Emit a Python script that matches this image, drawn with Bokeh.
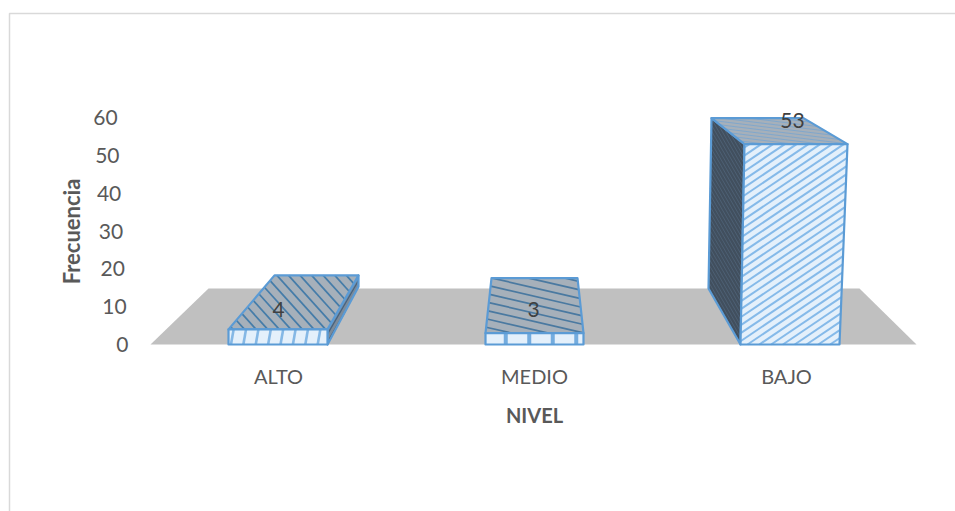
import math

from bokeh.plotting import figure
from bokeh.models import ColumnDataSource
from bokeh.core.properties import value
from bokeh.embed import file_html
from bokeh.resources import INLINE

# Chart values
categories = ["ALTO", "MEDIO", "BAJO"]
frequencies = [4, 3, 53]
y_ticks = [0, 10, 20, 30, 40, 50, 60]
y_title = "Frecuencia"
x_title = "NIVEL"

# Screen layout of the pseudo-3D scene
W, H = 955, 511
BASE_PX = 344          # pixel row of value 0
PX_PER_UNIT = 3.78     # vertical pixels per unit of frequency
BLUE = "#5b9bd5"
TEXT = "#595959"


def row(px):
    """Convert a pixel row into the value scale of the y range."""
    return (BASE_PX - px) / PX_PER_UNIT


# Per-bar perspective: front face x at base and top, back edge x, depth in pixels
bars = {
    "ALTO":  dict(bl=228, br=327, tl=228, tr=327, bkl=274, bkr=358, rise=54),
    "MEDIO": dict(bl=485, br=583, tl=485, tr=583, bkl=491, bkr=577, rise=55),
    "BAJO":  dict(bl=740, br=839, tl=744, tr=847, bkl=711, bkr=803, rise=26),
}
# Hatch of each face: line angle (deg, screen-clockwise), spacing, colour, width
front_hatch = {
    "ALTO":  (100, 12.2, "#80b4e4", 2.6),
    "MEDIO": (90, 23.5, "#6ea8dc", 4.0),
    "BAJO":  (-34, 6.6, "#80b6e8", 2.0),
}
top_hatch = {
    "ALTO":  (48, 8.6, "#3f79a8", 1.7),
    "MEDIO": (13, 8.2, "#44769f", 1.7),
    "BAJO":  (7, 3.4, "#7ea6cc", 1.0),
}
label_x = {"ALTO": 278, "MEDIO": 533, "BAJO": 792}
label_rise = {"ALTO": 20, "MEDIO": 24, "BAJO": 24}

p = figure(width=W, height=H, x_range=(0, W), y_range=(row(H), row(0)),
           output_backend="svg", toolbar_location=None, min_border=0,
           outline_line_color=None, background_fill_color="white")
p.axis.visible = False
p.grid.visible = False


def hatch_lines(xs, ys, style):
    """Clip a family of parallel lines to a convex face given in data units."""
    angle, step, color, width = style
    px = [(x, BASE_PX - y * PX_PER_UNIT) for x, y in zip(xs, ys)]
    nx, ny = -math.sin(math.radians(angle)), math.cos(math.radians(angle))
    proj = [nx * a + ny * b for a, b in px]
    lo, hi = min(proj), max(proj)
    out_x, out_y = [], []
    s = math.floor(lo / step) * step + step * 0.5
    while s < hi:
        hits = []
        for i in range(len(px)):
            j = (i + 1) % len(px)
            da, db = proj[i] - s, proj[j] - s
            if da * db < 0:
                t = da / (da - db)
                hits.append((px[i][0] + (px[j][0] - px[i][0]) * t,
                             px[i][1] + (px[j][1] - px[i][1]) * t))
        if len(hits) == 2:
            out_x.append([hits[0][0], hits[1][0]])
            out_y.append([row(hits[0][1]), row(hits[1][1])])
        s += step
    p.multi_line(out_x, out_y, line_color=color, line_width=width, line_alpha=0.95)


def face(xs, ys, fill, style=None):
    """Fill a face, lay its hatch over the fill, then stroke its outline."""
    p.patch(xs, ys, fill_color=fill, line_color=None)
    if style:
        hatch_lines(xs, ys, style)
    p.patch(xs + xs[:1], ys + ys[:1], fill_color=None, line_color=BLUE, line_width=2.2,
            line_join="round")


# Chart border: top and left edges only are in view
p.line([9, 9, W], [row(H), row(13), row(13)], line_color="#d9d9d9", line_width=1.5)

# Floor of the scene
p.patch([150, 916, 859, 208], [row(344), row(344), row(288), row(288)],
        fill_color="#c0c0c0", line_color=None)

for name, v in zip(categories, frequencies):
    b = bars[name]
    top_back = v + b["rise"] / PX_PER_UNIT
    # Left wall, visible only on the bar leaning toward the right
    if b["bkl"] < b["tl"]:
        face([b["bkl"], b["tl"], b["bl"], b["bkl"] - 3],
             [top_back, v, 0, row(288)], "#414f5e", (60, 3.0, "#4e6175", 1.0))
    # Right wall, visible only when the back edge sits past the front edge
    if b["bkr"] > b["tr"]:
        face([b["tr"], b["bkr"], b["bkr"], b["br"]],
             [v, top_back, top_back - v * 0.75, 0], "#7c8b9a", (-60, 4.0, "#41607e", 1.2))
    face([b["tl"], b["tr"], b["bkr"], b["bkl"]], [v, v, top_back, top_back],
         "#a6b0ba", top_hatch[name])
    face([b["bl"], b["br"], b["tr"], b["tl"]], [0, 0, v, v],
         "#e4f0fb", front_hatch[name])

font = value("Lato")

# Value labels
p.text([label_x[n] for n in categories],
       [v + label_rise[n] / PX_PER_UNIT for n, v in zip(categories, frequencies)],
       text=[str(v) for v in frequencies], text_font=font, text_font_size="21px",
       text_color="#404040", text_align="center", text_baseline="middle")

# Value axis labels follow the slanted left edge of the scene
tick_source = ColumnDataSource(dict(
    x=[128 - t * 0.18 for t in y_ticks], y=y_ticks, label=[str(t) for t in y_ticks]))
p.text("x", "y", text="label", source=tick_source, text_font=font, text_font_size="21px",
       text_color=TEXT, text_align="right", text_baseline="middle")

# Category labels
p.text([278, 534, 786], [row(375)] * 3, text=categories, text_font=font,
       text_font_size="20px", text_color=TEXT, text_align="center", text_baseline="middle")

# Axis titles
p.text([534], [row(414)], text=[x_title], text_font=font, text_font_size="20px",
       text_font_style="bold", text_color=TEXT, text_align="center", text_baseline="middle")
p.text([71], [row(231)], text=[y_title], text_font=font, text_font_size="22px",
       text_font_style="bold", text_color=TEXT, text_align="center", text_baseline="middle",
       angle=90, angle_units="deg")

open("out.html", "w").write(file_html(p, INLINE))
